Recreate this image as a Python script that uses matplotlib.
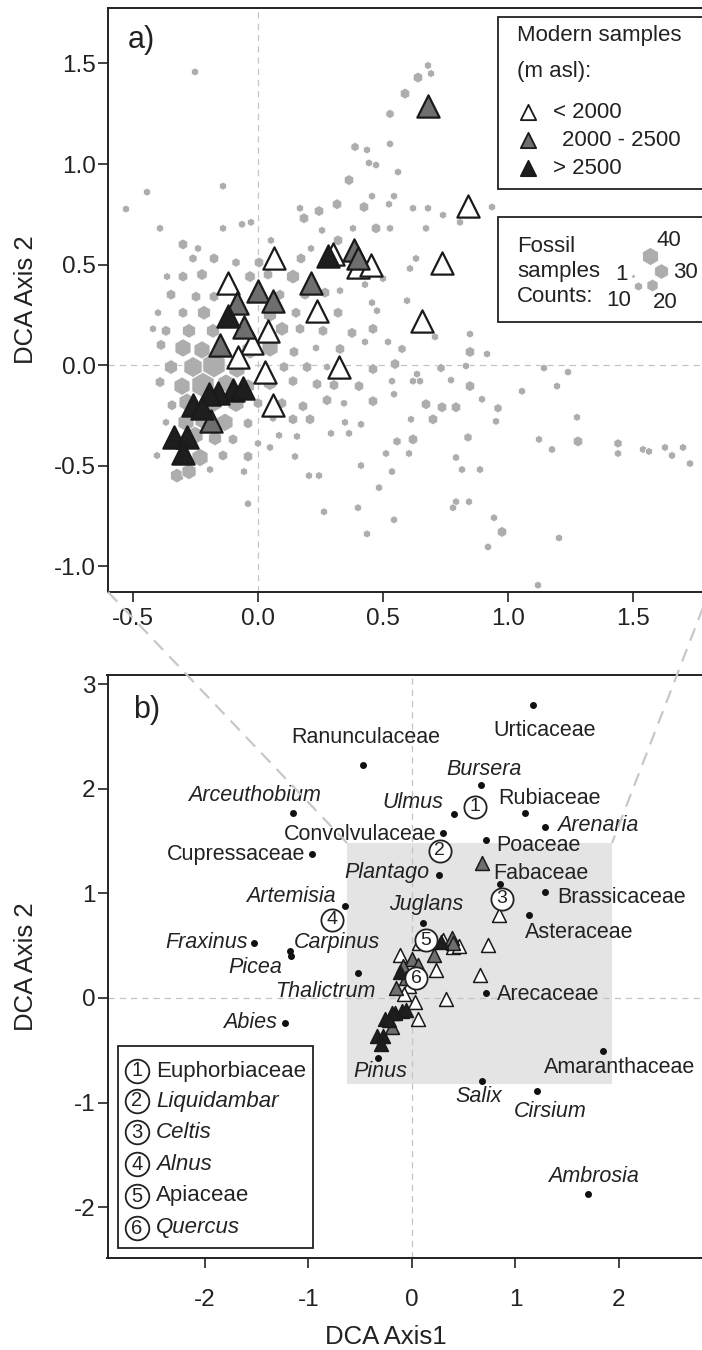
import numpy as np
import matplotlib
matplotlib.use("Agg")
import matplotlib.pyplot as plt
from matplotlib.lines import Line2D
from matplotlib.patches import Rectangle

plt.rcParams['font.family'] = ['Liberation Sans', 'DejaVu Sans']
plt.rcParams['axes.unicode_minus'] = False

#%% data: modern samples (DCA scores), by altitude class
low_x = [0.84, 0.736, 0.656, 0.064, -0.12, 0.30, 0.40, 0.45, 0.236, 0.04, -0.024, -0.08, 0.028, 0.324, 0.06]
low_y = [0.79, 0.51, 0.22, 0.53, 0.41, 0.55, 0.49, 0.50, 0.27, 0.17, 0.11, 0.04, -0.035, -0.01, -0.20]
mid_x = [0.68, 0.385, 0.40, 0.21, 0.0, -0.084, 0.06, -0.056, -0.152, -0.19]
mid_y = [1.29, 0.57, 0.53, 0.41, 0.37, 0.31, 0.32, 0.19, 0.10, -0.28]
high_x = [0.28, -0.12, -0.10, -0.06, -0.16, -0.196, -0.26, -0.224, -0.336, -0.284, -0.30]
high_y = [0.54, 0.245, -0.125, -0.115, -0.14, -0.145, -0.20, -0.215, -0.36, -0.36, -0.44]

#%% fossil samples (x, y, count)
fossil = [
    (-0.252,1.458,6),(0.528,1.249,8),(0.388,1.085,8),(0.436,1.07,6),(0.528,1.10,6),(0.444,1.005,6),
    (0.472,0.995,6),(0.56,0.96,6),(0.364,0.92,11),(-0.444,0.86,6),(-0.14,0.89,6),(-0.528,0.776,6),
    (0.316,0.80,11),(0.424,0.786,11),(0.456,0.84,6),(0.524,0.80,6),(0.544,0.84,6),(0.168,0.78,6),
    (0.244,0.766,11),(0.184,0.73,11),(-0.392,0.68,6),(-0.14,0.68,6),(-0.064,0.70,6),(-0.028,0.71,6),
    (0.256,0.67,6),(0.38,0.68,6),(0.472,0.68,11),(0.528,0.68,6),(0.052,0.62,6),(0.32,0.62,11),
    (-0.30,0.60,11),(-0.24,0.58,6),(0.212,0.58,6),(-0.26,0.53,8),(-0.176,0.53,11),(-0.088,0.51,8),
    (0.004,0.51,11),(0.172,0.53,11),(-0.364,0.44,6),(-0.30,0.44,11),(-0.224,0.45,13),(-0.032,0.44,13),
    (0.04,0.45,11),(0.14,0.44,20),(0.428,0.40,6),(0.50,0.43,6),(0.328,0.37,6),(0.268,0.36,11),
    (-0.348,0.35,11),(-0.248,0.34,11),(-0.176,0.34,11),(0.088,0.35,11),(0.188,0.35,11),
    (0.456,0.31,6),(0.476,0.27,6),(0.32,0.26,11),(0.152,0.26,11),(0.048,0.25,20),(-0.40,0.26,6),
    (-0.30,0.26,11),(-0.216,0.26,20),(-0.42,0.18,6),(-0.368,0.17,11),(-0.276,0.17,20),(-0.18,0.17,20),
    (0.096,0.18,20),(0.168,0.18,11),(0.26,0.17,11),(0.376,0.16,11),(0.46,0.18,11),(0.52,0.115,6),
    (0.428,0.115,6),(0.328,0.08,11),(0.232,0.085,6),(0.144,0.065,11),(0.048,0.085,31),(-0.388,0.10,11),
    (-0.30,0.085,31),(-0.224,0.075,31),(-0.032,0.075,31),(-0.348,-0.01,20),(-0.26,-0.01,40),
    (-0.176,0.0,60),(-0.084,-0.02,31),(0.104,-0.01,11),(0.196,-0.01,11),(0.276,-0.01,6),(0.46,-0.02,11),
    (0.548,0.005,11),(-0.392,-0.085,11),(-0.304,-0.105,31),(-0.22,-0.10,60),(-0.128,-0.09,31),
    (-0.04,-0.105,20),(0.048,-0.09,20),(0.14,-0.08,11),(0.236,-0.095,11),(0.304,-0.10,11),(0.404,-0.105,11),
    (0.536,-0.08,6),(0.544,-0.145,6),(-0.344,-0.20,11),(-0.284,-0.185,31),(-0.18,-0.185,40),
    (-0.088,-0.19,31),(0.0,-0.19,11),(0.096,-0.19,11),(0.18,-0.205,11),(0.276,-0.175,11),(0.344,-0.19,6),
    (0.46,-0.18,11),(-0.368,-0.285,6),(-0.288,-0.285,31),(-0.22,-0.275,31),(-0.132,-0.285,31),
    (-0.04,-0.29,11),(0.06,-0.265,6),(0.14,-0.27,11),(0.208,-0.27,11),(0.292,-0.34,6),(0.348,-0.285,6),
    (0.364,-0.34,6),(0.412,-0.295,6),(-0.252,-0.35,31),(-0.172,-0.365,20),(-0.10,-0.37,11),(0.0,-0.39,6),
    (0.084,-0.35,6),(0.156,-0.355,6),(0.048,-0.41,6),(0.148,-0.455,6),(-0.404,-0.45,6),(-0.232,-0.46,31),
    (-0.14,-0.45,11),(-0.04,-0.455,11),(-0.324,-0.55,20),(-0.276,-0.53,24),(-0.192,-0.52,6),(-0.056,-0.53,6),
    (0.204,-0.55,6),(0.244,-0.55,6),(0.412,-0.50,6),(0.512,-0.44,6),(0.536,-0.53,6),(0.556,-0.38,8),
    (0.484,-0.61,6),(-0.04,-0.69,6),(0.264,-0.73,6),(0.40,-0.71,6),(0.544,-0.77,6),(0.436,-0.84,6),
    (0.68,1.49,6),(0.692,1.45,6),(0.64,1.43,11),(0.588,1.35,11),(0.62,0.78,6),(0.68,0.78,6),(0.74,0.746,6),
    (0.808,0.71,6),(0.936,0.786,6),(0.672,0.68,6),(0.632,0.53,6),(0.608,0.48,6),(0.596,0.32,6),
    (0.848,0.154,6),(0.708,0.14,6),(0.576,0.08,8),(0.848,0.065,11),(0.916,0.055,6),(0.732,-0.015,8),
    (0.832,-0.005,6),(0.636,-0.045,6),(0.62,-0.08,6),(0.648,-0.08,6),(0.772,-0.075,6),(0.848,-0.105,11),
    (1.144,-0.015,6),(1.24,-0.035,6),(1.196,-0.105,6),(1.056,-0.13,6),(0.896,-0.17,6),(0.96,-0.215,8),
    (0.672,-0.195,11),(0.736,-0.21,11),(0.792,-0.21,11),(0.612,-0.27,6),(0.70,-0.27,11),(0.952,-0.28,6),
    (1.276,-0.26,6),(0.62,-0.37,11),(0.604,-0.44,6),(0.84,-0.36,8),(1.124,-0.37,6),(1.176,-0.42,6),
    (1.28,-0.38,11),(1.44,-0.39,8),(1.44,-0.44,6),(1.54,-0.42,6),(1.564,-0.43,6),(1.628,-0.41,6),
    (1.656,-0.45,6),(1.70,-0.41,6),(1.728,-0.49,6),(0.792,-0.46,6),(0.816,-0.52,6),(0.888,-0.52,6),
    (0.792,-0.68,6),(0.78,-0.71,6),(0.844,-0.68,6),(0.944,-0.76,6),(0.976,-0.83,11),(0.92,-0.905,6),
    (1.204,-0.86,6),(1.12,-1.095,6),
]
fos_x = [p[0] for p in fossil]
fos_y = [p[1] for p in fossil]
fos_n = [p[2] for p in fossil]
legend_counts = [1, 10, 20, 30, 40]

#%% taxa scores for panel b
taxa = ['Ranunculaceae', 'Arceuthobium', 'Convolvulaceae', 'Cupressaceae', 'Artemisia', 'Fraxinus',
        'Carpinus', 'Picea', 'Thalictrum', 'Abies', 'Pinus', 'Urticaceae', 'Bursera', 'Ulmus',
        'Rubiaceae', 'Arenaria', 'Poaceae', 'Fabaceae', 'Plantago', 'Brassicaceae', 'Juglans',
        'Asteraceae', 'Arecaceae', 'Amaranthaceae', 'Salix', 'Cirsium', 'Ambrosia']
taxa_x = [-0.473, -1.15, 0.30, -0.97, -0.65, -1.53, -1.18, -1.17, -0.52, -1.23, -0.33, 1.17, 0.67, 0.41,
          1.09, 1.29, 0.72, 0.85, 0.26, 1.29, 0.11, 1.13, 0.72, 1.85, 0.68, 1.21, 1.70]
taxa_y = [2.23, 1.77, 1.58, 1.38, 0.88, 0.53, 0.45, 0.40, 0.24, -0.24, -0.57, 2.80, 2.04, 1.76,
          1.77, 1.63, 1.51, 1.09, 1.18, 1.01, 0.72, 0.79, 0.05, -0.51, -0.79, -0.89, -1.87]
numbered = ['Euphorbiaceae', 'Liquidambar', 'Celtis', 'Alnus', 'Apiaceae', 'Quercus']
num_x = [0.61, 0.27, 0.87, -0.77, 0.135, 0.04]
num_y = [1.83, 1.41, 0.95, 0.75, 0.55, 0.19]
genera = {'Arceuthobium', 'Artemisia', 'Fraxinus', 'Carpinus', 'Picea', 'Thalictrum', 'Abies', 'Pinus',
          'Bursera', 'Ulmus', 'Arenaria', 'Plantago', 'Juglans', 'Salix', 'Cirsium', 'Ambrosia',
          'Liquidambar', 'Celtis', 'Alnus', 'Quercus'}

# label placement (label position, horizontal alignment)
label_pos = {
    'Ranunculaceae': (-0.45, 2.49, 'center'), 'Arceuthobium': (-1.52, 1.94, 'center'),
    'Convolvulaceae': (0.24, 1.56, 'right'), 'Cupressaceae': (-1.03, 1.37, 'right'),
    'Artemisia': (-0.74, 0.97, 'right'), 'Fraxinus': (-1.59, 0.53, 'right'),
    'Carpinus': (-1.14, 0.53, 'left'), 'Picea': (-1.25, 0.29, 'right'),
    'Thalictrum': (-0.84, 0.06, 'center'), 'Abies': (-1.30, -0.23, 'right'),
    'Pinus': (-0.31, -0.70, 'center'), 'Urticaceae': (1.28, 2.56, 'center'),
    'Bursera': (0.70, 2.18, 'center'), 'Ulmus': (0.30, 1.87, 'right'),
    'Rubiaceae': (1.33, 1.91, 'center'), 'Arenaria': (1.40, 1.65, 'left'),
    'Poaceae': (0.81, 1.46, 'left'), 'Fabaceae': (0.79, 1.19, 'left'),
    'Plantago': (0.17, 1.20, 'right'), 'Brassicaceae': (1.40, 0.96, 'left'),
    'Juglans': (0.14, 0.89, 'center'), 'Asteraceae': (1.62, 0.63, 'center'),
    'Arecaceae': (0.82, 0.03, 'left'), 'Amaranthaceae': (2.01, -0.66, 'center'),
    'Salix': (0.64, -0.94, 'center'), 'Cirsium': (1.34, -1.09, 'center'),
    'Ambrosia': (1.75, -1.71, 'center'),
}

#%% styles
W, H = 702, 1350
GREY = '#adadad'
INK = '#222222'
TRI = {'low': 'white', 'mid': '#6e6e6e', 'high': '#1e1e1e'}

def hex_size(n):
    # marker diameter grows with sqrt(count)
    d = np.maximum(3.3 * np.sqrt(np.asarray(n, dtype=float)), 4.5) * 0.72
    return d ** 2

fig = plt.figure(figsize=(W / 100, H / 100), dpi=100)

def add_ax(l, t, r, b):
    return fig.add_axes([l / W, 1 - b / H, (r - l) / W, (b - t) / H])

axa = add_ax(108, 8, 703, 592)
axb = add_ax(107.5, 675, 703, 1258)

def style(ax):
    for s in ax.spines.values():
        s.set_linewidth(1.4)
        s.set_color(INK)
    ax.tick_params(direction='out', length=7.5, width=1.2, labelsize=17.5, colors=INK)
    ax.tick_params(axis='y', pad=1)
    ax.axhline(0, color='#c4c4c4', lw=0.9, ls=(0, (5, 4)), zorder=0.5)
    ax.axvline(0, color='#c4c4c4', lw=0.9, ls=(0, (5, 4)), zorder=0.5)

#%% panel a
style(axa)
axa.tick_params(axis='x', pad=4)
axa.set_xlim(-0.6, 1.78)
axa.set_ylim(-1.129, 1.776)
axa.set_xticks([-0.5, 0.0, 0.5, 1.0, 1.5])
axa.set_xticklabels(['-0.5', '0.0', '0.5', '1.0', '1.5'])
axa.set_yticks([-1.0, -0.5, 0.0, 0.5, 1.0, 1.5])
axa.set_yticklabels(['-1.0', '-0.5', '0.0', '0.5', '1.0', '1.5'])
axa.set_ylabel('DCA Axis 2', fontsize=18.5, color=INK)
axa.yaxis.set_label_coords(-0.118, 0.5)

axa.scatter(fos_x, fos_y, s=hex_size(fos_n), marker='h', c=GREY, edgecolors='white', linewidths=0.5, zorder=2)
tri_a = dict(marker='^', s=16 ** 2, edgecolors='#1a1a1a', linewidths=1.6, zorder=3)
axa.scatter(low_x, low_y, c=TRI['low'], **tri_a)
axa.scatter(mid_x, mid_y, c=TRI['mid'], **tri_a)
axa.scatter(high_x, high_y, c=TRI['high'], **tri_a)
axa.text(0.033, 0.945, 'a)', transform=axa.transAxes, fontsize=22, va='center', color=INK)

def pa(px, py):
    return ((px - 108) / 595, (592 - py) / 584)

# legend boxes (panel a)
for (l, t, r, b) in [(498, 17, 703, 189), (498, 217, 703, 322)]:
    x0, y0 = pa(l, b)
    x1, y1 = pa(r, t)
    axa.add_patch(Rectangle((x0, y0), x1 - x0, y1 - y0, transform=axa.transAxes, fc='white',
                            ec=INK, lw=1.3, zorder=5))
for txt, py in [('Modern samples', 35), ('(m asl):', 71)]:
    axa.text(*pa(517, py), txt, transform=axa.transAxes, fontsize=16, va='center', zorder=6, color=INK)
for key, txt, py, tx in [('low', '< 2000', 112, 553), ('mid', '2000 - 2500', 140, 562), ('high', '> 2500', 168, 553)]:
    axa.scatter(*pa(528, py), transform=axa.transAxes, marker='^', s=11 ** 2, c=TRI[key],
                edgecolors='#1a1a1a', linewidths=1.3, zorder=6)
    axa.text(*pa(tx, py), txt, transform=axa.transAxes, fontsize=16, va='center', zorder=6, color=INK)
for txt, py in [('Fossil', 246), ('samples', 272), ('Counts:', 297)]:
    axa.text(*pa(517, py), txt, transform=axa.transAxes, fontsize=16, va='center', zorder=6, color=INK)
hex_pos = [(633, 276), (638, 286), (652, 285), (661, 271), (650, 256)]
num_pos = [(621, 274), (619, 300), (665, 303), (685, 272), (669, 240)]
for n, hp, npos in zip(legend_counts, hex_pos, num_pos):
    axa.scatter(*pa(*hp), transform=axa.transAxes, marker='h', s=hex_size(n) * 0.75, c=GREY,
                edgecolors='white', linewidths=0.5, zorder=6)
    axa.text(*pa(*npos), str(n), transform=axa.transAxes, fontsize=16, ha='center', va='center',
             zorder=6, color=INK)

#%% panel b
style(axb)
axb.tick_params(axis='x', pad=15)
axb.set_xlim(-2.942, 2.812)
axb.set_ylim(-2.486, 3.088)
axb.set_xticks([-2, -1, 0, 1, 2])
axb.set_xticklabels(['-2', '-1', '0', '1', '2'])
axb.set_yticks([-2, -1, 0, 1, 2, 3])
axb.set_yticklabels(['-2', '-1', '0', '1', '2', '3'])
axb.set_ylabel('DCA Axis 2', fontsize=18.5, color=INK)
axb.yaxis.set_label_coords(-0.117, 0.5)
axb.set_xlabel('DCA Axis1', fontsize=18.5, color=INK)
axb.xaxis.set_label_coords(0.468, -0.115)

axb.add_patch(Rectangle((-0.63, -0.82), 2.56, 2.30, fc='#e4e4e4', ec='none', zorder=0.2))
tri_b = dict(marker='^', s=10 ** 2, edgecolors='#1a1a1a', linewidths=1.1, zorder=3)
axb.scatter(low_x, low_y, c=TRI['low'], **tri_b)
axb.scatter(mid_x, mid_y, c=TRI['mid'], **tri_b)
axb.scatter(high_x, high_y, c=TRI['high'], **tri_b)

axb.scatter(taxa_x, taxa_y, s=16, c='#111111', zorder=4)
for name in taxa:
    lx, ly, ha = label_pos[name]
    axb.text(lx, ly, name, fontsize=15.5, ha=ha, va='center', color=INK, zorder=5,
             style='italic' if name in genera else 'normal')

axb.scatter(num_x, num_y, s=16 ** 2, c='white', edgecolors=INK, linewidths=1.3, zorder=6)
for i, (x, y) in enumerate(zip(num_x, num_y)):
    axb.text(x, y, str(i + 1), fontsize=14, ha='center', va='center', zorder=7, color=INK)

axb.text(0.043, 0.94, 'b)', transform=axb.transAxes, fontsize=22, va='center', color=INK)

def pb(px, py):
    return ((px - 107.5) / 595.5, (1258 - py) / 583)

x0, y0 = pb(118, 1248)
x1, y1 = pb(313, 1046)
axb.add_patch(Rectangle((x0, y0), x1 - x0, y1 - y0, transform=axb.transAxes, fc='white',
                        ec=INK, lw=1.3, zorder=8))
rows = [1071, 1101, 1132, 1164, 1196, 1228]
for i, (name, py) in enumerate(zip(numbered, rows)):
    axb.scatter(*pb(137, py), transform=axb.transAxes, marker='o', s=17 ** 2, c='white',
                edgecolors=INK, linewidths=1.3, zorder=9)
    axb.text(*pb(137, py), str(i + 1), transform=axb.transAxes, fontsize=14.5, ha='center',
             va='center', zorder=10, color=INK)
    axb.text(*pb(156, py), name, transform=axb.transAxes, fontsize=16, va='center', zorder=10,
             color=INK, style='italic' if name in genera else 'normal')

#%% zoom connector lines
for (x_0, y_0), (x_1, y_1) in [((108, 592), (347, 843)), ((709, 592), (612, 843))]:
    fig.add_artist(Line2D([x_0 / W, x_1 / W], [1 - y_0 / H, 1 - y_1 / H], transform=fig.transFigure,
                          color='#c8c8c8', lw=1.6, ls=(0, (6, 4)), zorder=3))

fig.savefig('out.png', dpi=100)
